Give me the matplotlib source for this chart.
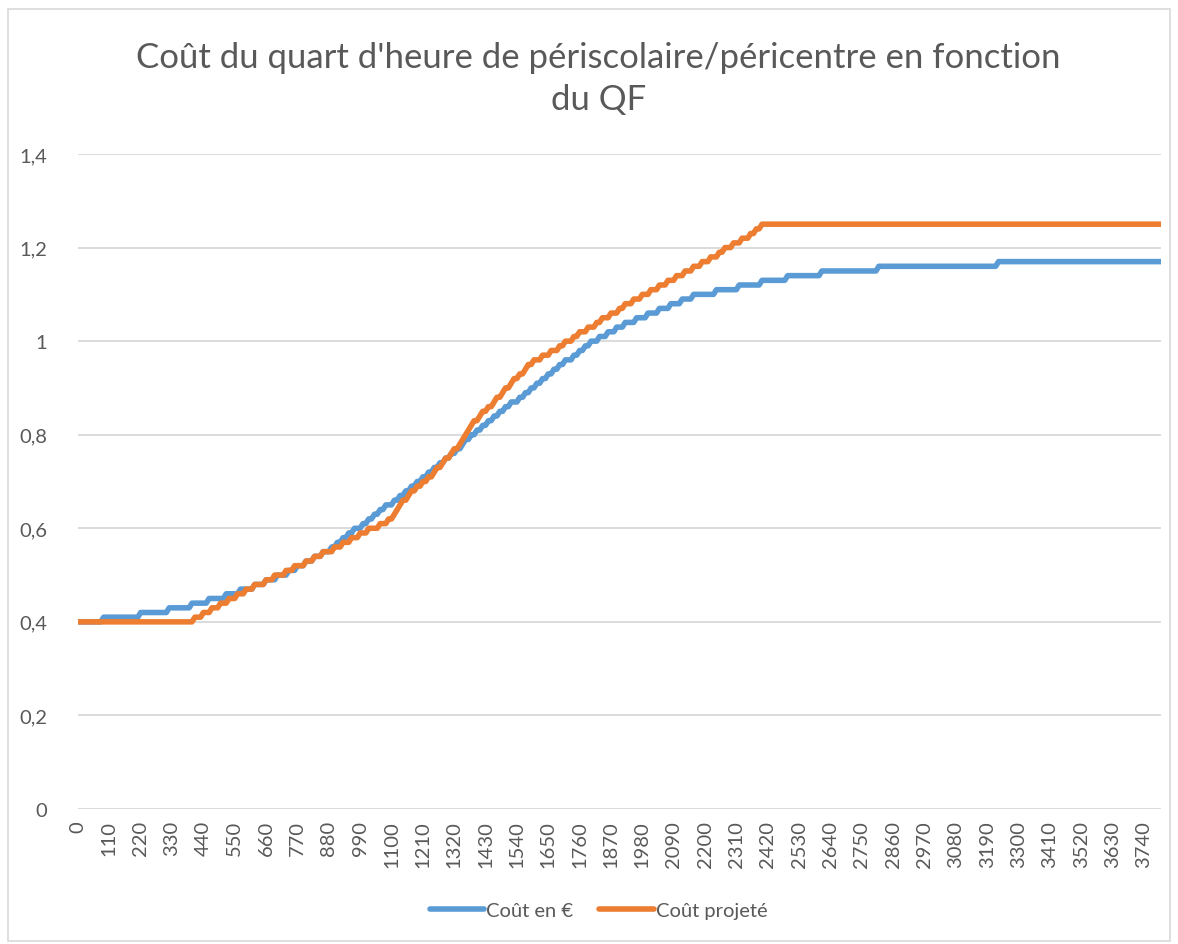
import numpy as np
import matplotlib
matplotlib.use("Agg")
import matplotlib.pyplot as plt
from matplotlib.ticker import FuncFormatter

# QF categories 0..3800 step 10
qf = list(range(0, 3810, 10))

# "Coût en €" : QF at which each new price level starts
cout_qf = [0, 90, 220, 320, 400, 460, 520, 570, 620, 660,
           700, 740, 770, 800, 830, 860, 890, 910, 930, 950,
           970, 1000, 1020, 1040, 1060, 1080, 1110, 1130, 1150, 1170,
           1190, 1210, 1230, 1250, 1270, 1290, 1310, 1330, 1350, 1360,
           1380, 1400, 1420, 1440, 1460, 1480, 1500, 1520, 1550, 1570,
           1590, 1610, 1630, 1650, 1670, 1690, 1710, 1740, 1760, 1780,
           1800, 1830, 1860, 1890, 1920, 1960, 2000, 2040, 2080, 2120,
           2160, 2240, 2320, 2400, 2490, 2610, 2810, 3230]
cout_val = [0.40, 0.41, 0.42, 0.43, 0.44, 0.45, 0.46, 0.47, 0.48, 0.49,
            0.50, 0.51, 0.52, 0.53, 0.54, 0.55, 0.56, 0.57, 0.58, 0.59,
            0.60, 0.61, 0.62, 0.63, 0.64, 0.65, 0.66, 0.67, 0.68, 0.69,
            0.70, 0.71, 0.72, 0.73, 0.74, 0.75, 0.76, 0.77, 0.78, 0.79,
            0.80, 0.81, 0.82, 0.83, 0.84, 0.85, 0.86, 0.87, 0.88, 0.89,
            0.90, 0.91, 0.92, 0.93, 0.94, 0.95, 0.96, 0.97, 0.98, 0.99,
            1.00, 1.01, 1.02, 1.03, 1.04, 1.05, 1.06, 1.07, 1.08, 1.09,
            1.10, 1.11, 1.12, 1.13, 1.14, 1.15, 1.16, 1.17]

# "Coût projeté"
proj_qf = [0, 410, 440, 470, 500, 530, 560, 590, 620, 660,
           690, 730, 760, 800, 830, 860, 900, 930, 960, 990,
           1020, 1060, 1090, 1110, 1120, 1130, 1140, 1160, 1170, 1190,
           1210, 1230, 1250, 1260, 1280, 1290, 1310, 1320, 1340, 1350,
           1360, 1370, 1380, 1390, 1410, 1420, 1440, 1460, 1470, 1490,
           1500, 1520, 1530, 1550, 1570, 1580, 1600, 1630, 1660, 1690,
           1710, 1740, 1760, 1790, 1820, 1840, 1870, 1900, 1920, 1950,
           1980, 2010, 2040, 2070, 2100, 2130, 2160, 2190, 2220, 2250,
           2270, 2300, 2330, 2360, 2380, 2400]
proj_val = [0.40, 0.41, 0.42, 0.43, 0.44, 0.45, 0.46, 0.47, 0.48, 0.49,
            0.50, 0.51, 0.52, 0.53, 0.54, 0.55, 0.56, 0.57, 0.58, 0.59,
            0.60, 0.61, 0.62, 0.63, 0.64, 0.65, 0.66, 0.67, 0.68, 0.69,
            0.70, 0.71, 0.72, 0.73, 0.74, 0.75, 0.76, 0.77, 0.78, 0.79,
            0.80, 0.81, 0.82, 0.83, 0.84, 0.85, 0.86, 0.87, 0.88, 0.89,
            0.90, 0.91, 0.92, 0.93, 0.94, 0.95, 0.96, 0.97, 0.98, 0.99,
            1.00, 1.01, 1.02, 1.03, 1.04, 1.05, 1.06, 1.07, 1.08, 1.09,
            1.10, 1.11, 1.12, 1.13, 1.14, 1.15, 1.16, 1.17, 1.18, 1.19,
            1.20, 1.21, 1.22, 1.23, 1.24, 1.25]


def step_lookup(starts, vals):
    idx = np.searchsorted(starts, qf, side="right") - 1
    return np.array(vals)[idx]


cout = step_lookup(cout_qf, cout_val)
proj = step_lookup(proj_qf, proj_val)

plt.rcParams['font.family'] = ['Lato', 'DejaVu Sans']
grey = '#595959'

fig = plt.figure(figsize=(11.78, 9.45), dpi=100)
ax = fig.add_axes([78 / 1178, 1 - 810 / 945, (1161 - 78) / 1178, (810 - 155) / 945])

pos = np.arange(len(qf))
ax.plot(pos, cout, color='#5B9BD5', lw=4, label='Coût en €', solid_capstyle='round')
ax.plot(pos, proj, color='#ED7D31', lw=4, label='Coût projeté', solid_capstyle='round')

ax.set_xlim(0, len(qf) - 1)
ax.set_ylim(0, 1.4)
ax.set_yticks(np.arange(0, 1.41, 0.2))
ax.yaxis.set_major_formatter(FuncFormatter(lambda v, p: f"{v:.1f}".rstrip('0').rstrip('.').replace('.', ',')))
ax.set_xticks(pos[::11])
ax.set_xticklabels([str(q) for q in qf[::11]], rotation=90)
ax.tick_params(axis='both', length=0, colors=grey, labelsize=14.5)
ax.tick_params(axis='y', pad=22)
ax.tick_params(axis='x', pad=8)
ax.grid(axis='y', color='#d9d9d9', lw=1.3)
ax.set_axisbelow(True)
for s in ax.spines.values():
    s.set_visible(False)

fig.text(0.508, 1 - 79 / 945, "Coût du quart d'heure de périscolaire/péricentre en fonction\ndu QF",
         ha='center', va='center', fontsize=25, color=grey, linespacing=1.42)

fig.legend(loc='center', bbox_to_anchor=(0.508, 1 - 911 / 945), ncol=2, frameon=False,
           fontsize=14.5, handlelength=2.7, handletextpad=0.1, columnspacing=1.3, labelcolor=grey)

# chart border
fig.patches.append(plt.Rectangle((8 / 1178, 3 / 945), 1 - 16 / 1178, 1 - 13 / 945,
                                 transform=fig.transFigure, fill=False, ec='#d9d9d9', lw=1.2))

fig.savefig('out.png', dpi=100)
